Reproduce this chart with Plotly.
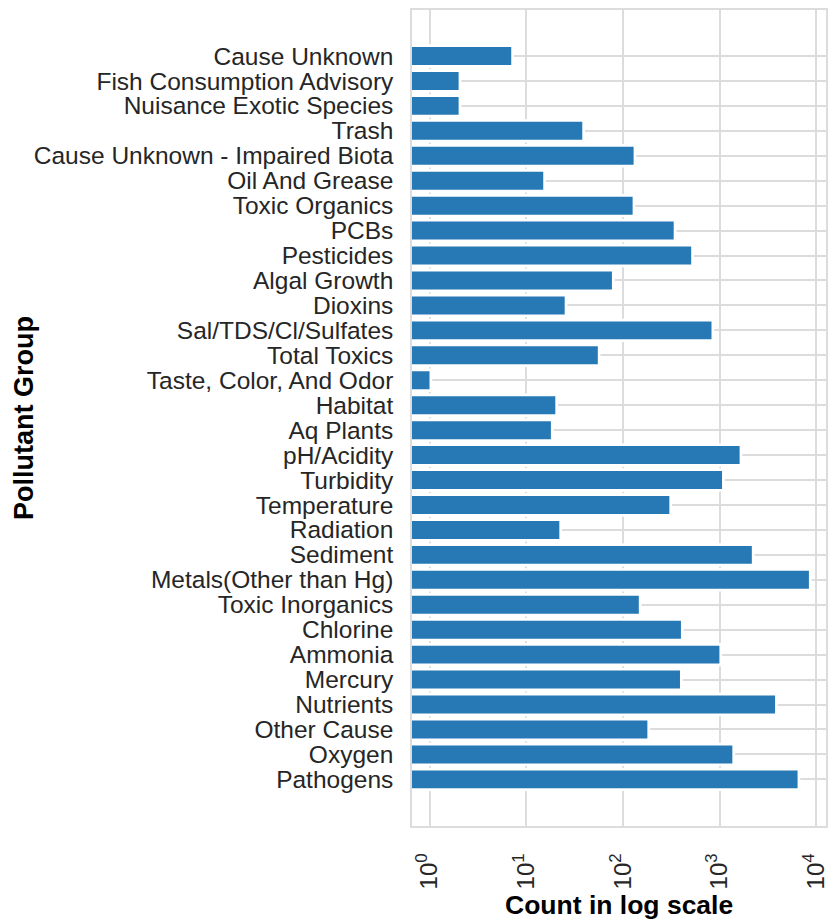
import plotly.graph_objects as go

# Pollutant groups, listed top to bottom as they appear on the chart
groups = [
    "Cause Unknown",
    "Fish Consumption Advisory",
    "Nuisance Exotic Species",
    "Trash",
    "Cause Unknown - Impaired Biota",
    "Oil And Grease",
    "Toxic Organics",
    "PCBs",
    "Pesticides",
    "Algal Growth",
    "Dioxins",
    "Sal/TDS/Cl/Sulfates",
    "Total Toxics",
    "Taste, Color, And Odor",
    "Habitat",
    "Aq Plants",
    "pH/Acidity",
    "Turbidity",
    "Temperature",
    "Radiation",
    "Sediment",
    "Metals(Other than Hg)",
    "Toxic Inorganics",
    "Chlorine",
    "Ammonia",
    "Mercury",
    "Nutrients",
    "Other Cause",
    "Oxygen",
    "Pathogens",
]

# Number of listings for each pollutant group
counts = [
    7, 2, 2, 38, 129, 15, 126, 335, 508, 77,
    25, 824, 55, 1, 20, 18, 1610, 1059, 302, 22,
    2153, 8380, 146, 398, 995, 389, 3745, 179, 1354, 6397,
]

# decades shown on the log axis
x_exponents = [0, 1, 2, 3, 4]
x_tick_vals = [10 ** e for e in x_exponents]
x_tick_text = [f"10<sup>{e}</sup>" for e in x_exponents]

BAR_BLUE = "#2679b5"
GRID = "#dcdcdc"
FONT = "Liberation Sans, Arial, Helvetica, sans-serif"

fig = go.Figure()

# white backing behind each bar so the grid stops a little short of the bars
fig.add_trace(go.Bar(
    x=counts, y=groups, orientation="h", width=0.72,
    marker=dict(color="white", line=dict(color="white", width=5.4)),
    hoverinfo="skip", showlegend=False,
))

fig.add_trace(go.Bar(
    x=counts, y=groups, orientation="h", width=0.72,
    marker=dict(color=BAR_BLUE, line=dict(width=0)),
    name="Count", showlegend=False,
))

fig.update_layout(
    width=830, height=922,
    margin=dict(l=412, r=2, t=10, b=96),
    paper_bgcolor="white", plot_bgcolor="white",
    barmode="overlay",
    font=dict(family=FONT, color="#262626"),
)

fig.update_xaxes(
    type="log",
    range=[-0.181, 4.10],
    tickmode="array",
    tickvals=x_tick_vals,
    ticktext=x_tick_text,
    tickangle=-90,
    tickfont=dict(size=24, color="#262626"),
    ticks="", ticklabelstandoff=16,
    showgrid=True, gridcolor=GRID, gridwidth=1.6,
    showline=True, mirror=True, linecolor=GRID, linewidth=1.6,
    zeroline=False,
)

fig.update_yaxes(
    type="category",
    categoryorder="array", categoryarray=groups,
    tickmode="array", tickvals=groups, ticktext=groups,
    range=[len(groups) - 1 + 1.87, -1.844],
    tickfont=dict(size=24.5, color="#262626"),
    ticks="", ticklabelstandoff=12,
    showgrid=True, gridcolor=GRID, gridwidth=1.6,
    showline=True, mirror=True, linecolor=GRID, linewidth=1.6,
)

# axis titles
fig.add_annotation(
    text="<b>Count in log scale</b>", xref="paper", yref="paper",
    x=0.5, y=-0.0968, xanchor="center", yanchor="middle",
    showarrow=False, font=dict(size=26.5, color="black", family=FONT),
)
fig.add_annotation(
    text="<b>Pollutant Group</b>", xref="paper", yref="paper",
    x=-0.937, y=0.5, xanchor="center", yanchor="middle", textangle=-90,
    showarrow=False, font=dict(size=27, color="black", family=FONT),
)

fig.write_html("out.html")
